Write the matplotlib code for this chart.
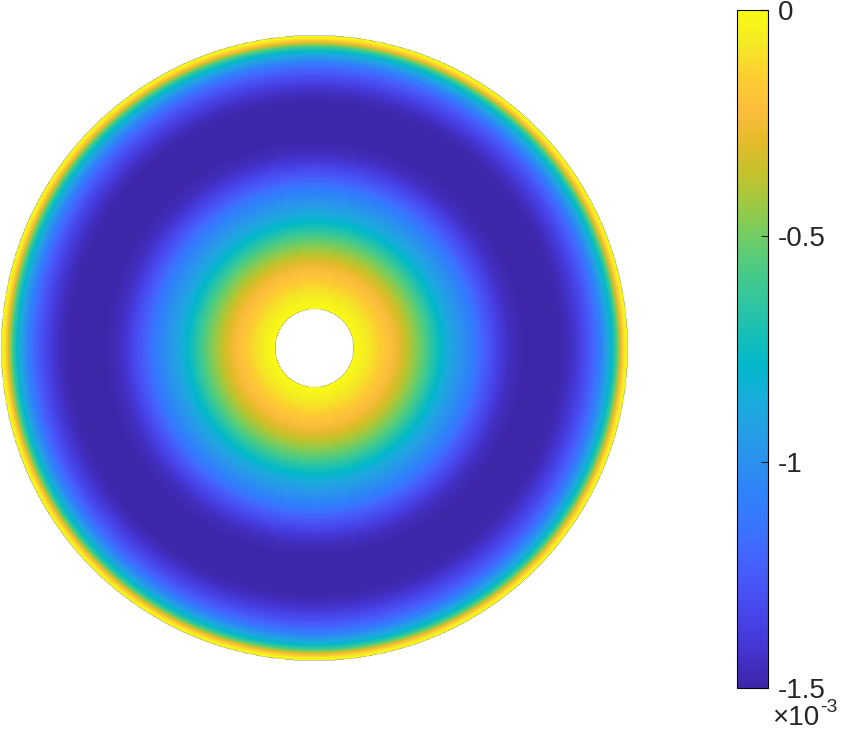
import numpy as np
import matplotlib
matplotlib.use('Agg')
import matplotlib.pyplot as plt
from matplotlib.colors import LinearSegmentedColormap

plt.rcParams['font.family'] = ['Liberation Sans', 'DejaVu Sans']

# radial profile (radius as fraction of outer radius, value x1e-3)
r_inner = 0.125
radius = [0.125, 0.153, 0.182, 0.214, 0.246, 0.275, 0.300, 0.329, 0.355, 0.380,
          0.406, 0.431, 0.460, 0.492, 0.521, 0.546, 0.572, 0.597, 0.623, 0.671,
          0.735, 0.789, 0.815, 0.843, 0.869, 0.898, 0.917, 0.939, 0.949, 0.962,
          0.971, 0.981, 0.990, 1.0]
value = [0.0, -0.04, -0.09, -0.16, -0.22, -0.30, -0.38, -0.48, -0.57, -0.68,
         -0.79, -0.88, -0.97, -1.05, -1.15, -1.24, -1.32, -1.39, -1.45, -1.5,
         -1.5, -1.49, -1.45, -1.38, -1.30, -1.18, -1.06, -0.88, -0.78, -0.62,
         -0.45, -0.22, -0.06, 0.0]

cbar_ticks = [-1.5, -1.0, -0.5, 0.0]
cbar_labels = ['-1.5', '-1', '-0.5', '0']
vmin, vmax = -1.5, 0.0

# MATLAB parula anchors
parula = [
    (0.2422, 0.1504, 0.6603), (0.2647, 0.1978, 0.7952), (0.2783, 0.2559, 0.8991),
    (0.2810, 0.3228, 0.9579), (0.2699, 0.3892, 0.9906), (0.2206, 0.4603, 0.9973),
    (0.1834, 0.5074, 0.9798), (0.1687, 0.5703, 0.9359), (0.1380, 0.6276, 0.8973),
    (0.0952, 0.6798, 0.8598), (0.0036, 0.7203, 0.7917), (0.0964, 0.7500, 0.7120),
    (0.1938, 0.7758, 0.6251), (0.2906, 0.7973, 0.5188), (0.4456, 0.8024, 0.3909),
    (0.6174, 0.7876, 0.2612), (0.7738, 0.7598, 0.1646), (0.9035, 0.7330, 0.1774),
    (0.9956, 0.7434, 0.2371), (0.9892, 0.8136, 0.1885), (0.9597, 0.9135, 0.1423),
    (0.9769, 0.9839, 0.0805)]
cmap = LinearSegmentedColormap.from_list('parula', parula, N=256)

W, H = 844, 730
fig = plt.figure(figsize=(W / 100, H / 100), dpi=100)
ax = fig.add_axes([1 / W, 69 / H, 626 / W, 626 / H])

n = 900
xs = np.linspace(-1, 1, n)
X, Y = np.meshgrid(xs, xs)
Rr = np.hypot(X, Y)
Z = np.interp(Rr, radius, value)
Z = np.ma.masked_where((Rr > 1.0) | (Rr < r_inner), Z)
im = ax.imshow(Z, extent=[-1, 1, -1, 1], origin='lower', cmap=cmap,
               vmin=vmin, vmax=vmax, interpolation='antialiased')
ax.set_xlim(-1, 1)
ax.set_ylim(-1, 1)
ax.axis('off')

cax = fig.add_axes([737 / W, 42 / H, 31 / W, 678 / H])
cb = fig.colorbar(im, cax=cax, ticks=cbar_ticks)
cb.ax.set_yticklabels(cbar_labels)
cb.ax.tick_params(direction='in', length=5, width=0.8, labelsize=20, pad=7,
                  colors='#262626', labelcolor='#262626')
cb.outline.set_linewidth(0.8)

# exponent label under the colorbar
fig.text(772 / W, 1 - 725 / H, '×10', fontsize=20, ha='left', va='baseline',
         color='#262626')
fig.text(820 / W, 1 - 712 / H, '-3', fontsize=14, ha='left', va='baseline',
         color='#262626')

fig.savefig('out.png', dpi=100)
